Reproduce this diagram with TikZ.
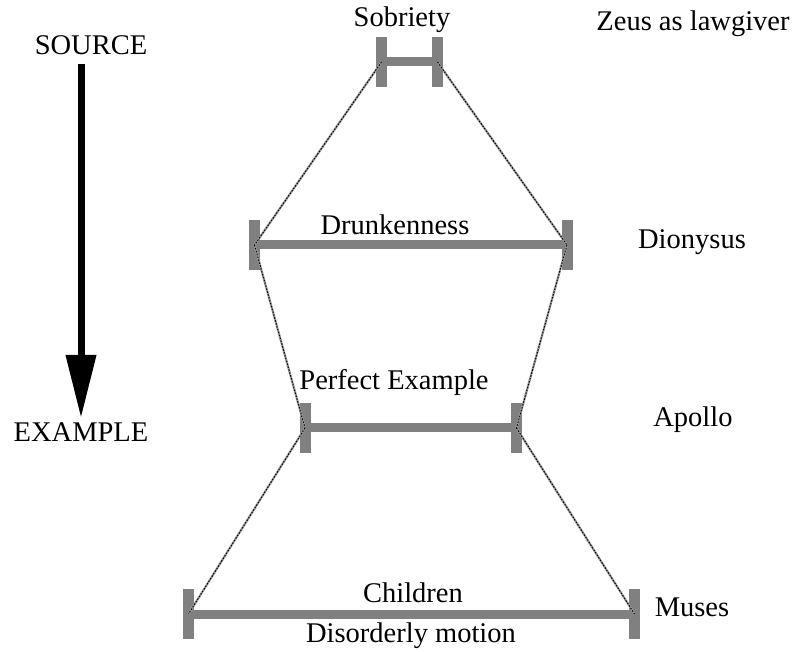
\documentclass[tikz,border=0pt]{standalone}
\usepackage{fontspec}
\setmainfont{Liberation Serif}
\usetikzlibrary{arrows.meta}
\begin{document}
\begin{tikzpicture}[x=1pt,y=-1pt,
  lbl/.style={font=\fontsize{28.5}{32}\selectfont, inner sep=0pt},
  endpost/.style={fill=gray, draw=none, minimum width=11pt, minimum height=50pt, inner sep=0pt, outer sep=0pt},
  barline/.style={draw=gray, line width=9pt},
  ropeback/.style={draw=gray!80, line width=2.2pt},
  ropefront/.style={draw=black, line width=0.9pt, dash pattern=on 1.6pt off 1.4pt},
  bigarrow/.style={line width=7pt, -{Triangle[length=63pt,width=29pt]}}]
\useasboundingbox (0,0) rectangle (796,652);
% posts
\node[endpost] (tL) at (381.5,62) {};
\node[endpost] (tR) at (437.5,62) {};
\node[endpost] (dL) at (254.5,245) {};
\node[endpost] (dR) at (567,245) {};
\node[endpost] (pL) at (305,428) {};
\node[endpost] (pR) at (516.5,428) {};
\node[endpost] (bL) at (188.5,614) {};
\node[endpost] (bR) at (634.5,614) {};
% bars
\draw[barline] (tL.center) -- (tR.center);
\draw[barline] (dL.center) -- (dR.center);
\draw[barline] (pL.center) -- (pR.center);
\draw[barline] (bL.center) -- (bR.center);
% ropes
\foreach \a/\b in {tL/dL, tR/dR, dL/pL, dR/pR, pL/bL, pR/bR}{
  \draw[ropeback] (\a.center) -- (\b.center);
  \draw[ropefront] (\a.center) -- (\b.center);
}
% labels
\node[lbl] (sob) at (402,20) {Sobriety};
\node[lbl] (zeus) at (693,24) {Zeus as lawgiver};
\node[lbl] (src) at (91,45) {SOURCE};
\node[lbl] (exa) at (81,432) {EXAMPLE};
\node[lbl] (drk) at (395,225) {Drunkenness};
\node[lbl] (dio) at (692,242) {Dionysus};
\node[lbl] (per) at (394,383) {Perfect Example};
\node[lbl] (apo) at (693,420) {Apollo};
\node[lbl] (chi) at (413,593) {Children};
\node[lbl] (mus) at (692,607) {Muses};
\node[lbl] (dis) at (411,636) {Disorderly motion};
% arrow
\coordinate (a1) at (81,64);
\coordinate (a2) at (81,418);
\draw[bigarrow] (a1) -- (a2);
\end{tikzpicture}
\end{document}
